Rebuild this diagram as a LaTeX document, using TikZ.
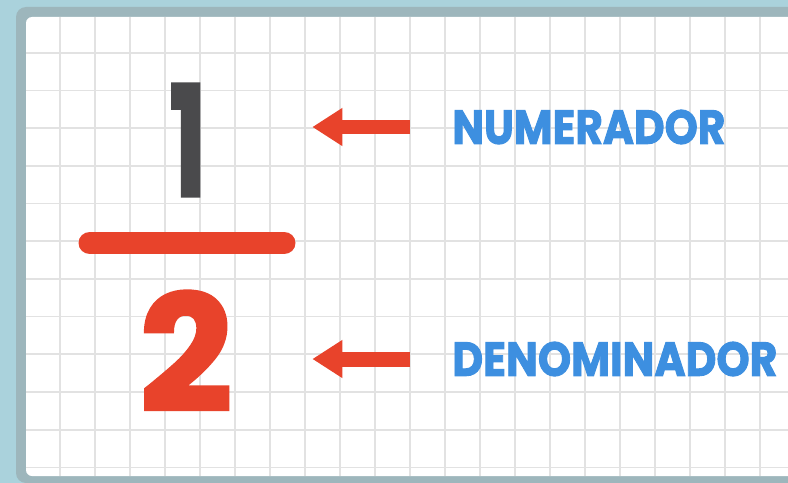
\documentclass[tikz,border=0pt]{standalone}
\usepackage{fontspec}
\usepackage{graphicx}
\usetikzlibrary{arrows.meta,positioning}
\newfontfamily\heavyfont{Poppins}[BoldFeatures={FakeBold=2}]
\definecolor{framebg}{HTML}{AAD2DC}
\definecolor{frameshade}{HTML}{9DB6BC}
\definecolor{gridgray}{HTML}{E2E2E2}
\definecolor{fracred}{HTML}{E8432B}
\definecolor{numgray}{HTML}{4A4A4C}
\definecolor{lblblue}{HTML}{3D8FE0}

\begin{document}
\begin{tikzpicture}[x=0.02cm,y=-0.02cm,
    gridline/.style={gridgray, line width=0.035cm},
    digit/.style={inner sep=0pt, font=\heavyfont\bfseries},
    lbl/.style={inner sep=0pt, text=lblblue, font=\heavyfont\bfseries},
    redarrow/.style={fracred, line width=0.3cm, -{Triangle[width=0.72cm,length=0.6cm]}}]
    \useasboundingbox (0,0) rectangle (788,483);

    % Frame and paper
    \fill[framebg] (0,0) rectangle (788,483);
    \fill[frameshade, rounded corners=0.2cm] (16,7) rectangle (800,483);
    \fill[white, rounded corners=0.12cm] (26,17) rectangle (800,476);

    % Squared paper
    \foreach \gx in {1,...,22}
        \draw[gridline] ({25+35*\gx},17) -- ({25+35*\gx},476);
    \foreach \gy in {1,...,12}
        \draw[gridline] (26,{15+37.7*\gy}) -- (800,{15+37.7*\gy});

    % Fraction
    \node[digit, text=numgray] (num) at (188,140) {\resizebox{0.74cm}{2.24cm}{1}};
    \draw[fracred, line width=0.46cm, line cap=round] (90,243) -- (284,243);
    \node[digit, text=fracred] (den) at (186,351) {\resizebox{1.86cm}{2.4cm}{2}};

    % Labels
    \node[lbl, anchor=west] (numlbl) at (452,127) {\resizebox{5.46cm}{0.68cm}{NUMERADOR}};
    \node[lbl, anchor=west] (denlbl) at (452,359) {\resizebox{6.5cm}{0.68cm}{DENOMINADOR}};

    % Arrows
    \draw[redarrow, shorten <=0.84cm, shorten >=2.11cm] (numlbl.west) -- (num.east |- numlbl.west);
    \draw[redarrow, shorten <=0.84cm, shorten >=1.59cm] (denlbl.west) -- (den.east |- denlbl.west);
\end{tikzpicture}
\end{document}
